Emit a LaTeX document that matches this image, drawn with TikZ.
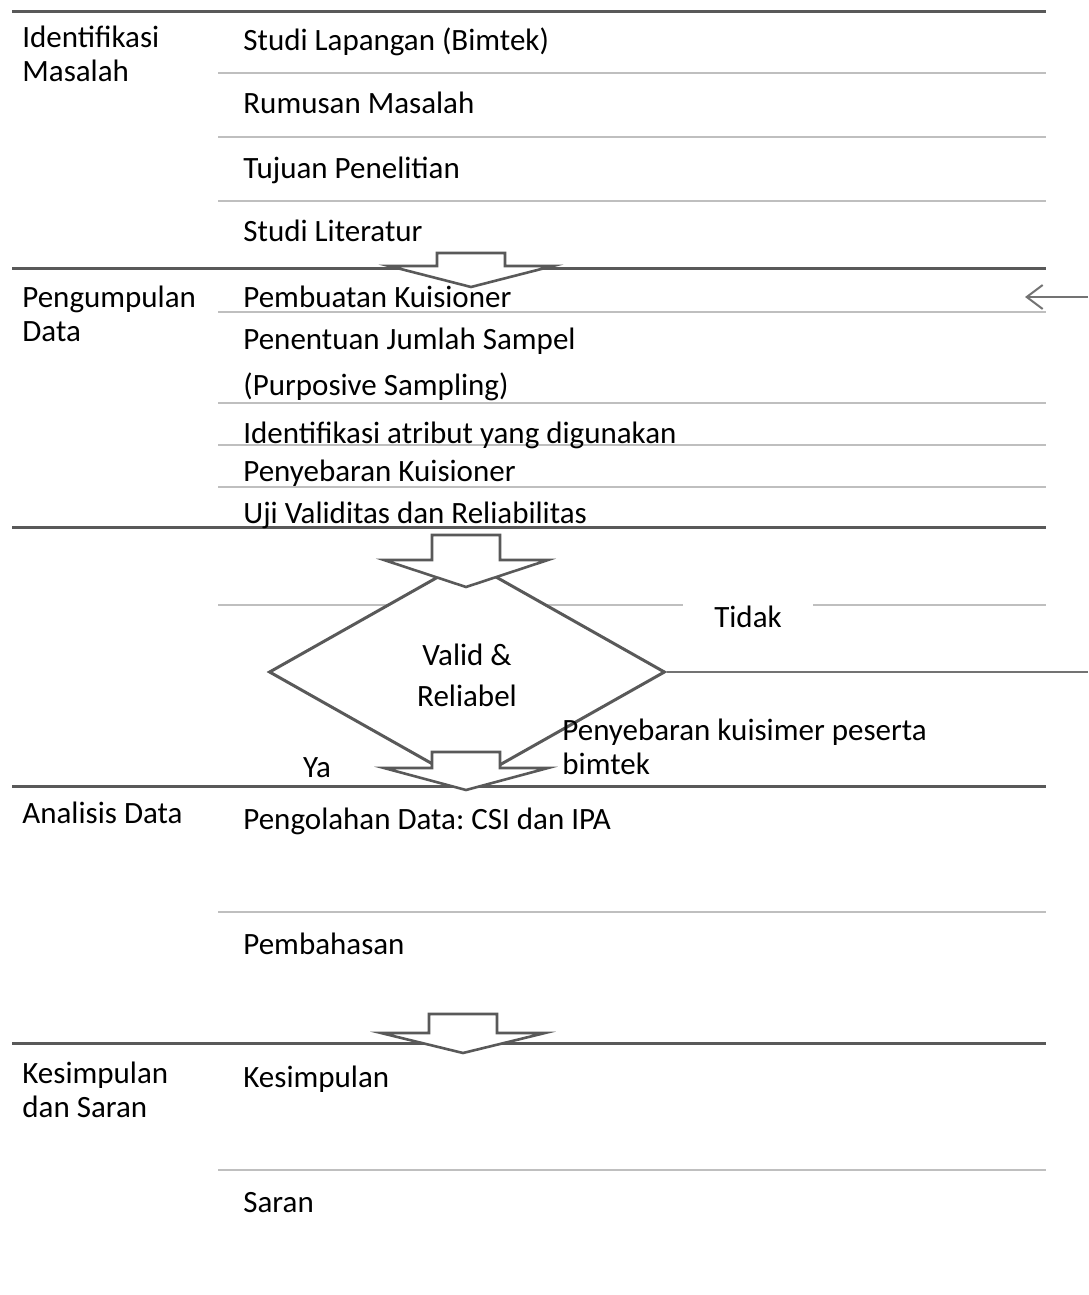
\documentclass[tikz,border=0pt]{standalone}
\usepackage{fontspec}
\setmainfont{Carlito}
\frenchspacing
\usetikzlibrary{arrows.meta,shapes.geometric}

\begin{document}
\begin{tikzpicture}
  [
    x = 0.5pt, y = -0.5pt,
    every node/.style = {font=\fontsize{15.5}{17}\selectfont, inner sep=0pt},
    phase/.style  = {anchor=base west, align=left},
    task/.style   = {anchor=base west},
    major/.style  = {draw=black!65, line width=1.5pt},
    minor/.style  = {draw=black!25, line width=1pt},
    flow/.style   = {draw=black!55, line width=1pt},
    check/.style  = {diamond, draw=black!65, line width=1.5pt, fill=white,
                     align=center, minimum width=198pt, minimum height=112pt,
                     font=\fontsize{15.5}{20.5}\selectfont},
    gap/.style    = {fill=white, anchor=base},
    pics/blockarrow/.style 2 args = {code = {
      \draw [draw=black!65, line width=1.3pt, fill=white]
        (-34,0) -- (34,0) -- (34,#1) -- (82,#1) -- (0,#2)
        -- (-82,#1) -- (-34,#1) -- cycle;
    }}
  ]
  \useasboundingbox (0,0) rectangle (1088,1295);

  \foreach \y in {73,137,201,312,403,445,487,605,912,1170}
    \draw [minor] (218,\y) -- (1046,\y);
  \foreach \y in {12,268,527,786,1043}
    \draw [major] (12,\y) -- (1046,\y);

  \node [check] (valid) at (467,672) {\rule{0pt}{14pt}Valid \&\\Reliabel};

  \pic at (471,253)  {blockarrow={13}{34}};
  \pic at (466,535)  {blockarrow={25}{52}};
  \pic at (466,752)  {blockarrow={16}{38}};
  \pic at (463,1014) {blockarrow={19}{39}};

  \coordinate (tidakR) at (1088,672);
  \coordinate (backR)  at (1088,297);
  \coordinate (backL)  at (1025,297);
  \draw [flow] (valid.east) -- (tidakR);
  \draw [flow, -{Straight Barb[length=8pt, width=12pt]}] (backR) -- (backL);

  \node [phase] (p1) at (22,82)   {Identifikasi\\Masalah};
  \node [phase] (p2) at (22,341)  {Pengumpulan\\Data};
  \node [phase] (p3) at (22,823)  {Analisis Data};
  \node [phase] (p4) at (22,1117) {Kesimpulan\\dan Saran};

  \node [task] (t1)  at (243,51)   {Studi Lapangan (Bimtek)};
  \node [task] (t2)  at (243,113)  {Rumusan Masalah};
  \node [task] (t3)  at (243,178)  {Tujuan Penelitian};
  \node [task] (t4)  at (243,241)  {Studi Literatur};
  \node [task] (t5)  at (243,307)  {Pembuatan Kuisioner};
  \node [task] (t6)  at (243,349)  {Penentuan Jumlah Sampel};
  \node [task] (t7)  at (243,395)  {(Purposive Sampling)};
  \node [task] (t8)  at (243,443)  {Identifikasi atribut yang digunakan};
  \node [task] (t9)  at (243,481)  {Penyebaran Kuisioner};
  \node [task] (t10) at (243,523)  {Uji Validitas dan Reliabilitas};
  \node [task] (t11) at (243,829)  {Pengolahan Data: CSI dan IPA};
  \node [task] (t12) at (243,954)  {Pembahasan};
  \node [task] (t13) at (243,1087) {Kesimpulan};
  \node [task] (t14) at (243,1212) {Saran};

  \node [gap, minimum width=65pt, inner ysep=4pt] (tidak) at (748,627) {Tidak};
  \node [gap, minimum width=47.5pt, inner ysep=3.75pt] (ya) at (317,777) {Ya};
  \node [phase] (note) at (562,774) {Penyebaran kuisimer peserta\\bimtek};
\end{tikzpicture}
\end{document}
